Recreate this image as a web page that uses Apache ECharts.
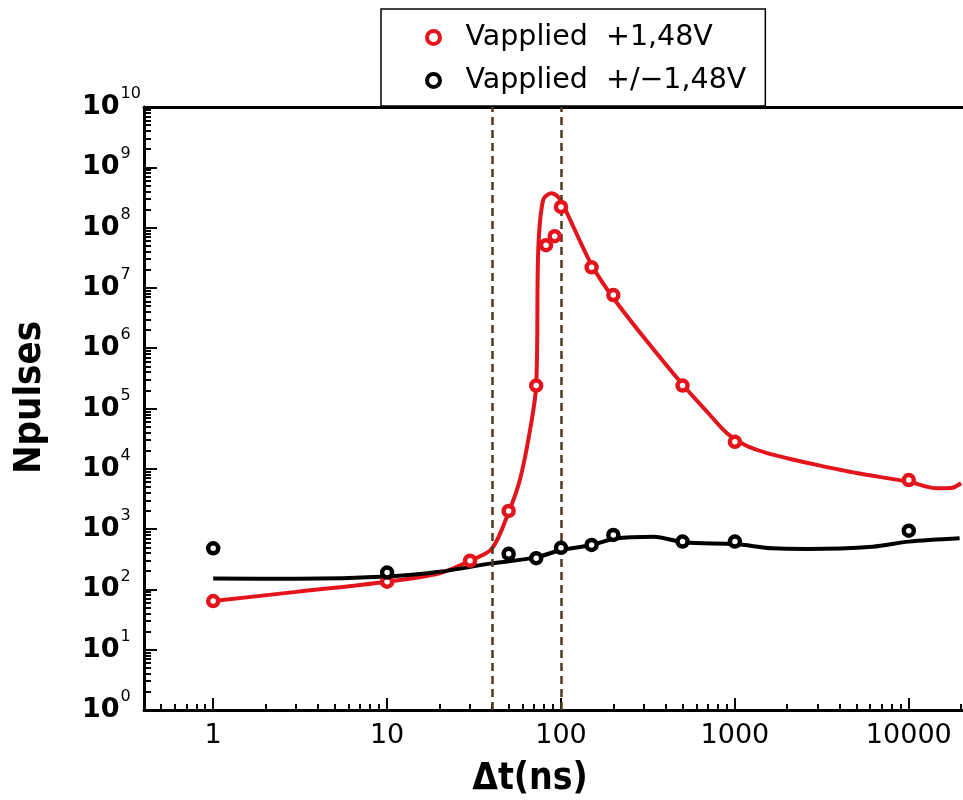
<!DOCTYPE html>
<html>
<head>
<meta charset="utf-8">
<script src="https://cdn.jsdelivr.net/npm/echarts@6.0.0/dist/echarts.min.js"></script>
<style>
  html, body { margin: 0; padding: 0; background: #fff; }
  #chart { width: 963px; height: 800px; }
</style>
</head>
<body>
<div id="chart"></div>
<script>
// ====================================
// DATA
// ====================================
const redName = 'Vapplied  +1,48V';
const blackName = 'Vapplied  +/\u22121,48V';

// measured points [dt (ns), Npulses]
const redPoints = [
  [1, 64], [10, 134], [30, 300], [50, 2000], [72, 2.4e5], [82, 5.1e7], [92, 7.2e7],
  [100, 2.2e8], [150, 2.2e7], [200, 7.6e6], [500, 2.4e5], [1000, 2.8e4], [10000, 6500]
];
const blackPoints = [
  [1, 480], [10, 190], [50, 390], [72, 330], [100, 490], [150, 545], [200, 800],
  [500, 620], [1000, 620], [10000, 940]
];

// fitted curves
const redCurve = [
  [1, 64], [3, 91], [10, 134], [20, 185], [30, 300], [40, 470],
  [50, 1900], [58, 6500], [66, 4e4], [72, 2.4e5], [74, 4.2e7], [79, 2.9e8], [88, 3.7e8],
  [96, 3.25e8], [103, 2.36e8], [150, 2.4e7], [200, 6.8e6], [300, 1.5e6], [500, 2.5e5],
  [700, 8.5e4], [900, 3.9e4], [1150, 2.45e4], [1500, 1.85e4], [2000, 1.5e4], [3000, 1.15e4],
  [5000, 8.5e3], [10000, 6100], [14500, 4750], [17500, 4800], [20000, 5750]
];
const blackCurve = [
  [1, 152], [3, 150], [10, 163], [20, 196], [40, 270], [72, 340], [100, 450],
  [150, 545], [205, 700], [340, 750], [516, 600], [1000, 565], [1650, 480],
  [2600, 468], [6200, 510], [10000, 620], [19600, 705]
];

// dashed guide lines
const guideLines = [40, 100];

// axes
const xMin = 0.4;
const xMax = 20500;
const yMin = 1;
const yMax = 1e10;
const xTickLabels = [1, 10, 100, 1000, 10000];
const yTickLabels = [1, 10, 100, 1e3, 1e4, 1e5, 1e6, 1e7, 1e8, 1e9, 1e10];

// ====================================
// HELPERS
// ====================================
function minorTicks(lo, hi) {
  const out = [];
  for (let d = 0.1; d <= hi; d *= 10) {
    for (let m = 2; m <= 9; m++) {
      const v = +(m * d).toPrecision(6);
      if (v >= lo && v <= hi) out.push(v);
    }
  }
  return out;
}

const RED = '#e3141b';
const BLACK = '#000';
const FONT = 'DejaVu Sans';
const TITLE_FONT = 'DejaVu Sans Condensed, DejaVu Sans';

const chart = echarts.init(document.getElementById('chart'));

const baseLog = (extra) => Object.assign({
  type: 'log',
  logBase: 10,
  splitLine: { show: false },
  minorTick: { show: false },
  minorSplitLine: { show: false }
}, extra);

chart.setOption({
  animation: false,
  backgroundColor: '#fff',
  grid: { left: 144, top: 107, right: 0, bottom: 90, outerBoundsMode: 'none' },
  legend: {
    data: [redName, blackName],
    orient: 'vertical',
    left: 381,
    top: 9,
    padding: [14, 19, 11, 44],
    itemGap: 14,
    itemWidth: 54,
    itemHeight: 13,
    borderColor: '#000',
    borderWidth: 1.5,
    backgroundColor: '#fff',
    selectedMode: false,
    itemStyle: { borderWidth: 4 },
    textStyle: { fontFamily: FONT, fontSize: 28.5, color: '#000' }
  },
  xAxis: [
    baseLog({
      min: xMin, max: xMax, position: 'bottom',
      axisLine: { lineStyle: { color: BLACK, width: 3 } },
      axisTick: { inside: true, length: 12, lineStyle: { color: BLACK, width: 2 }, customValues: xTickLabels },
      axisLabel: {
        customValues: xTickLabels, margin: 12,
        fontFamily: FONT, fontSize: 27, color: BLACK,
        formatter: v => String(Math.round(v))
      },
      name: '\u0394t(ns)',
      nameLocation: 'middle',
      nameGap: 51,
      nameTextStyle: { fontFamily: TITLE_FONT, fontWeight: 'bold', fontSize: 37, color: BLACK, padding: [0, 47, 0, 0] }
    }),
    baseLog({
      min: xMin, max: xMax, position: 'bottom',
      axisLine: { show: false },
      axisTick: { inside: true, length: 6, lineStyle: { color: BLACK, width: 2 }, customValues: minorTicks(xMin, xMax) },
      axisLabel: { show: false }
    }),
    {
      type: 'value', min: 0, max: 1, position: 'top',
      axisLine: { lineStyle: { color: BLACK, width: 3 } },
      axisTick: { show: false }, axisLabel: { show: false }, splitLine: { show: false }
    }
  ],
  yAxis: [
    baseLog({
      min: yMin, max: yMax, position: 'left',
      axisLine: { lineStyle: { color: BLACK, width: 3 } },
      axisTick: { inside: true, length: 13, lineStyle: { color: BLACK, width: 2 }, customValues: yTickLabels },
      axisLabel: {
        customValues: yTickLabels, margin: 62, align: 'left',
        formatter: v => '{b|10}{s|' + Math.round(Math.log10(v)) + '}',
        rich: {
          b: { fontFamily: FONT, fontSize: 27, fontWeight: 'bold', color: BLACK },
          s: { fontFamily: FONT, fontSize: 16, color: BLACK, padding: [0, 0, 26, 1] }
        }
      },
      name: 'Npulses',
      nameLocation: 'middle',
      nameGap: 95,
      nameRotate: 90,
      nameTextStyle: { fontFamily: TITLE_FONT, fontWeight: 'bold', fontSize: 38, color: BLACK, padding: [0, 0, 0, 22] }
    }),
    baseLog({
      min: yMin, max: yMax, position: 'left',
      axisLine: { show: false },
      axisTick: { inside: true, length: 7, lineStyle: { color: BLACK, width: 2 }, customValues: minorTicks(yMin, yMax) },
      axisLabel: { show: false }
    })
  ],
  series: [
    {
      name: 'fit red',
      type: 'line',
      data: redCurve,
      smooth: 0.3,
      showSymbol: false,
      lineStyle: { color: RED, width: 4 },
      z: 2,
      markLine: {
        silent: true,
        symbol: ['none', 'none'],
        label: { show: false },
        lineStyle: { type: [8, 5], color: '#4d3a22', width: 2.5 },
        data: guideLines.map(v => ({ xAxis: v }))
      }
    },
    {
      name: 'fit black',
      type: 'line',
      data: blackCurve,
      smooth: 0.3,
      showSymbol: false,
      lineStyle: { color: BLACK, width: 4 },
      z: 3
    },
    {
      name: redName,
      type: 'scatter',
      data: redPoints,
      symbol: 'circle',
      symbolSize: 10,
      itemStyle: { color: '#fff', borderColor: RED, borderWidth: 4.5, opacity: 1 },
      z: 5
    },
    {
      name: blackName,
      type: 'scatter',
      data: blackPoints,
      symbol: 'circle',
      symbolSize: 10,
      itemStyle: { color: '#fff', borderColor: BLACK, borderWidth: 4.5, opacity: 1 },
      z: 5
    }
  ]
});
window.addEventListener('resize', () => chart.resize());
</script>
</body>
</html>
